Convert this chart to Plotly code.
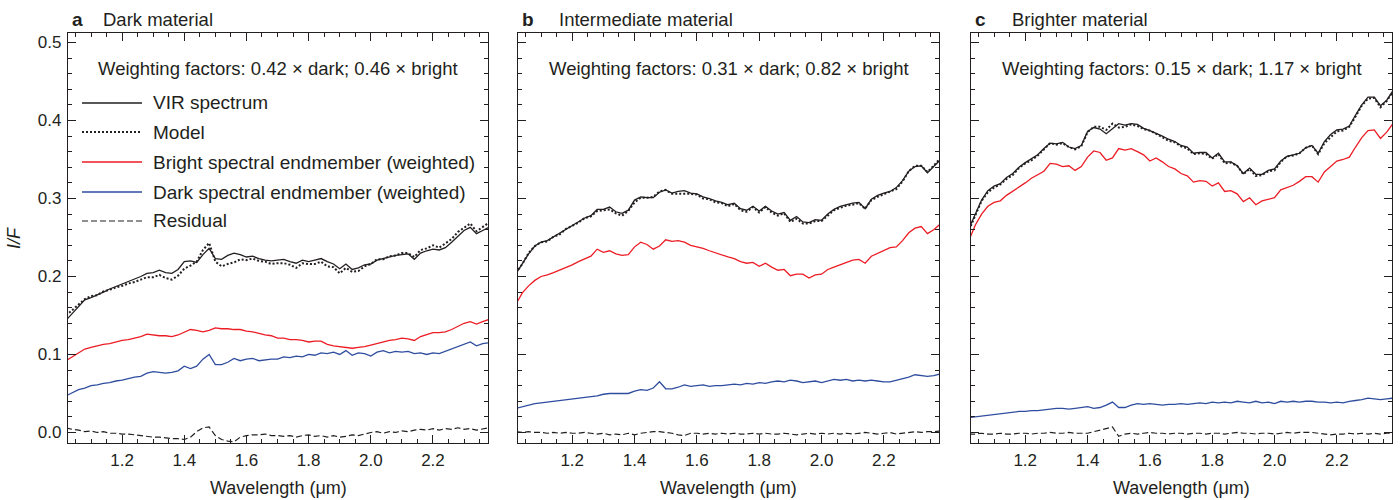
import plotly.graph_objects as go

# Sampling wavelengths (micrometres), shared by all spectra
wavelength = [
    1.02, 1.04, 1.06, 1.08, 1.10, 1.12, 1.14, 1.16, 1.18, 1.20,
    1.22, 1.24, 1.26, 1.28, 1.30, 1.32, 1.34, 1.36, 1.38, 1.40,
    1.42, 1.44, 1.46, 1.48, 1.50, 1.52, 1.54, 1.56, 1.58, 1.60,
    1.62, 1.64, 1.66, 1.68, 1.70, 1.72, 1.74, 1.76, 1.78, 1.80,
    1.82, 1.84, 1.86, 1.88, 1.90, 1.92, 1.94, 1.96, 1.98, 2.00,
    2.02, 2.04, 2.06, 2.08, 2.10, 2.12, 2.14, 2.16, 2.18, 2.20,
    2.22, 2.24, 2.26, 2.28, 2.30, 2.32, 2.34, 2.36, 2.38,
]

# ---- a: dark material ----
dark_vir = [
    0.144, 0.153, 0.161, 0.170, 0.173, 0.176, 0.180, 0.184, 0.187, 0.190,
    0.193, 0.196, 0.200, 0.204, 0.205, 0.208, 0.205, 0.204, 0.209, 0.219,
    0.220, 0.218, 0.228, 0.236, 0.223, 0.222, 0.227, 0.230, 0.228, 0.225,
    0.226, 0.223, 0.221, 0.220, 0.221, 0.222, 0.219, 0.217, 0.221, 0.219,
    0.221, 0.223, 0.219, 0.216, 0.210, 0.216, 0.209, 0.211, 0.215, 0.216,
    0.221, 0.223, 0.225, 0.227, 0.228, 0.229, 0.222, 0.230, 0.233, 0.235,
    0.234, 0.237, 0.244, 0.251, 0.259, 0.263, 0.255, 0.259, 0.263,
]
dark_bright_w = [
    0.092, 0.097, 0.102, 0.107, 0.109, 0.111, 0.113, 0.114, 0.116, 0.118,
    0.119, 0.121, 0.123, 0.126, 0.125, 0.124, 0.124, 0.123, 0.125, 0.129,
    0.132, 0.131, 0.129, 0.131, 0.134, 0.133, 0.133, 0.132, 0.132, 0.130,
    0.129, 0.127, 0.125, 0.124, 0.121, 0.121, 0.119, 0.119, 0.118, 0.116,
    0.117, 0.117, 0.113, 0.111, 0.110, 0.109, 0.108, 0.109, 0.110, 0.112,
    0.114, 0.116, 0.118, 0.119, 0.121, 0.120, 0.118, 0.123, 0.126, 0.128,
    0.128, 0.129, 0.132, 0.136, 0.140, 0.142, 0.139, 0.142, 0.145,
]
dark_dark_w = [
    0.047, 0.051, 0.055, 0.057, 0.060, 0.061, 0.063, 0.064, 0.066, 0.067,
    0.069, 0.071, 0.072, 0.076, 0.078, 0.077, 0.076, 0.077, 0.079, 0.085,
    0.082, 0.085, 0.094, 0.100, 0.087, 0.087, 0.090, 0.095, 0.092, 0.094,
    0.095, 0.092, 0.093, 0.094, 0.094, 0.097, 0.096, 0.098, 0.097, 0.100,
    0.099, 0.102, 0.101, 0.103, 0.100, 0.105, 0.099, 0.102, 0.101, 0.098,
    0.103, 0.105, 0.102, 0.104, 0.103, 0.104, 0.101, 0.102, 0.100, 0.102,
    0.101, 0.104, 0.106, 0.110, 0.113, 0.116, 0.111, 0.114, 0.115,
]
dark_residual = [
    0.006, 0.004, 0.003, 0.001, 0.002, 0.000, 0.001, -0.001, -0.001, -0.002,
    -0.002, -0.003, -0.004, -0.005, -0.006, -0.006, -0.007, -0.008, -0.008, -0.009,
    -0.006, 0.001, 0.006, 0.007, -0.004, -0.009, -0.011, -0.012, -0.006, -0.004,
    -0.003, -0.003, -0.002, -0.004, -0.004, -0.005, -0.004, -0.006, -0.004, -0.003,
    -0.005, -0.004, -0.006, -0.004, -0.006, -0.005, -0.003, -0.004, -0.002, 0.000,
    0.001, -0.001, 0.001, 0.000, 0.002, 0.001, 0.003, 0.004, 0.003, 0.005,
    0.003, 0.005, 0.004, 0.006, 0.004, 0.005, 0.003, 0.005, 0.006,
]

# ---- b: intermediate material ----
inter_vir = [
    0.204, 0.216, 0.229, 0.239, 0.244, 0.246, 0.251, 0.255, 0.261, 0.266,
    0.270, 0.275, 0.278, 0.286, 0.286, 0.289, 0.283, 0.281, 0.285, 0.298,
    0.302, 0.301, 0.301, 0.308, 0.311, 0.307, 0.309, 0.310, 0.307, 0.306,
    0.302, 0.300, 0.297, 0.295, 0.292, 0.294, 0.287, 0.285, 0.290, 0.284,
    0.290, 0.284, 0.280, 0.282, 0.272, 0.277, 0.270, 0.269, 0.273, 0.272,
    0.280, 0.286, 0.290, 0.292, 0.294, 0.295, 0.287, 0.299, 0.304, 0.307,
    0.309, 0.314, 0.323, 0.335, 0.341, 0.342, 0.333, 0.341, 0.349,
]
inter_bright_w = [
    0.165, 0.179, 0.188, 0.195, 0.200, 0.202, 0.205, 0.208, 0.212, 0.215,
    0.219, 0.222, 0.226, 0.235, 0.231, 0.233, 0.229, 0.227, 0.228, 0.238,
    0.244, 0.241, 0.235, 0.239, 0.247, 0.245, 0.246, 0.244, 0.240, 0.238,
    0.236, 0.233, 0.230, 0.227, 0.225, 0.223, 0.219, 0.217, 0.218, 0.213,
    0.217, 0.212, 0.208, 0.209, 0.201, 0.203, 0.203, 0.198, 0.202, 0.203,
    0.209, 0.212, 0.215, 0.218, 0.221, 0.222, 0.217, 0.226, 0.230, 0.234,
    0.237, 0.238, 0.246, 0.256, 0.262, 0.264, 0.255, 0.260, 0.267,
]
inter_dark_w = [
    0.031, 0.033, 0.035, 0.037, 0.038, 0.039, 0.040, 0.041, 0.042, 0.043,
    0.044, 0.045, 0.046, 0.047, 0.049, 0.050, 0.050, 0.050, 0.050, 0.053,
    0.055, 0.054, 0.057, 0.065, 0.056, 0.056, 0.058, 0.061, 0.059, 0.060,
    0.061, 0.059, 0.060, 0.060, 0.061, 0.062, 0.061, 0.063, 0.062, 0.064,
    0.063, 0.065, 0.066, 0.065, 0.067, 0.066, 0.064, 0.065, 0.066, 0.064,
    0.066, 0.068, 0.067, 0.068, 0.066, 0.067, 0.066, 0.067, 0.066, 0.065,
    0.065, 0.067, 0.069, 0.071, 0.074, 0.073, 0.072, 0.073, 0.075,
]
inter_residual = [
    0.001, 0.000, 0.001, 0.000, 0.000, -0.001, 0.000, -0.001, 0.000, -0.001,
    -0.001, 0.000, -0.001, -0.002, -0.001, -0.003, -0.002, -0.003, -0.001, -0.003,
    -0.001, 0.000, 0.001, 0.001, 0.000, -0.001, -0.003, -0.004, -0.001, -0.001,
    -0.002, -0.001, -0.002, -0.001, -0.002, -0.001, -0.002, -0.002, -0.001, -0.002,
    -0.001, -0.002, -0.002, -0.001, -0.002, -0.003, -0.002, -0.001, -0.002, -0.001,
    -0.002, -0.001, -0.002, -0.001, -0.002, -0.001, 0.000, -0.001, -0.002, -0.001,
    0.000, -0.002, -0.001, 0.000, 0.001, 0.000, 0.001, 0.001, 0.002,
]

# ---- c: brighter material ----
bright_vir = [
    0.262, 0.281, 0.298, 0.310, 0.316, 0.319, 0.327, 0.332, 0.340, 0.346,
    0.351, 0.356, 0.364, 0.371, 0.370, 0.372, 0.366, 0.364, 0.368, 0.386,
    0.391, 0.389, 0.383, 0.389, 0.396, 0.394, 0.396, 0.395, 0.390, 0.387,
    0.384, 0.380, 0.376, 0.373, 0.368, 0.366, 0.358, 0.359, 0.359, 0.352,
    0.358, 0.347, 0.347, 0.342, 0.332, 0.339, 0.331, 0.331, 0.336, 0.338,
    0.348, 0.354, 0.356, 0.358, 0.365, 0.368, 0.358, 0.373, 0.382, 0.388,
    0.389, 0.393, 0.407, 0.420, 0.430, 0.430, 0.419, 0.426, 0.438,
]
bright_bright_w = [
    0.247, 0.266, 0.280, 0.290, 0.295, 0.297, 0.304, 0.309, 0.314, 0.320,
    0.326, 0.331, 0.335, 0.345, 0.344, 0.341, 0.342, 0.336, 0.341, 0.353,
    0.361, 0.359, 0.349, 0.352, 0.364, 0.362, 0.364, 0.360, 0.356, 0.348,
    0.352, 0.347, 0.341, 0.338, 0.332, 0.329, 0.321, 0.323, 0.322, 0.316,
    0.320, 0.309, 0.310, 0.306, 0.296, 0.301, 0.292, 0.297, 0.299, 0.301,
    0.311, 0.314, 0.317, 0.322, 0.328, 0.328, 0.321, 0.334, 0.341, 0.348,
    0.350, 0.353, 0.366, 0.378, 0.387, 0.388, 0.377, 0.385, 0.396,
]
bright_dark_w = [
    0.019, 0.020, 0.021, 0.022, 0.023, 0.024, 0.025, 0.026, 0.027, 0.027,
    0.028, 0.028, 0.029, 0.030, 0.031, 0.031, 0.030, 0.031, 0.032, 0.033,
    0.031, 0.032, 0.035, 0.039, 0.032, 0.032, 0.035, 0.037, 0.036, 0.037,
    0.036, 0.035, 0.036, 0.036, 0.037, 0.036, 0.037, 0.038, 0.037, 0.039,
    0.038, 0.039, 0.038, 0.040, 0.039, 0.038, 0.040, 0.038, 0.039, 0.037,
    0.040, 0.039, 0.040, 0.039, 0.040, 0.040, 0.039, 0.039, 0.038, 0.039,
    0.038, 0.040, 0.041, 0.042, 0.044, 0.043, 0.042, 0.043, 0.044,
]
bright_residual = [
    -0.002, -0.002, -0.001, -0.002, -0.002, -0.001, -0.002, -0.002, -0.001, -0.001,
    -0.002, -0.001, -0.001, 0.000, -0.001, -0.001, 0.000, -0.001, -0.001, -0.001,
    0.001, 0.003, 0.005, 0.007, -0.005, -0.002, -0.001, -0.002, -0.001, 0.000,
    -0.001, -0.001, -0.002, -0.001, -0.001, -0.002, -0.001, -0.001, -0.002, -0.001,
    -0.001, -0.002, -0.001, 0.000, -0.001, -0.001, -0.002, -0.001, -0.001, -0.002,
    -0.001, 0.000, -0.001, 0.000, 0.000, 0.000, -0.001, -0.002, -0.003, -0.002,
    -0.002, -0.001, -0.002, -0.001, -0.002, -0.001, -0.002, -0.001, -0.001,
]

panel_letters = ["a", "b", "c"]
panel_names = ["Dark material", "Intermediate material", "Brighter material"]
dark_weights = ["0.42", "0.31", "0.15"]
bright_weights = ["0.46", "0.82", "1.17"]
legend_labels = [
    "VIR spectrum",
    "Model",
    "Bright spectral endmember (weighted)",
    "Dark spectral endmember (weighted)",
    "Residual",
]
y_ticks = [0.0, 0.1, 0.2, 0.3, 0.4, 0.5]
x_ticks = [1.2, 1.4, 1.6, 1.8, 2.0, 2.2]

spectra = [
    (dark_vir, dark_bright_w, dark_dark_w, dark_residual),
    (inter_vir, inter_bright_w, inter_dark_w, inter_residual),
    (bright_vir, bright_bright_w, bright_dark_w, bright_residual),
]

# ---- styling ----
W, H = 1400, 500
INK = "#231f20"
RED = "#ec1c24"
BLUE = "#2f4d9f"
FONT = "Arial, Liberation Sans, Helvetica, sans-serif"
panel_px = [(68, 488), (518, 939), (971, 1392)]
top_px, bottom_px = 33, 443


def px(x):
    return x / W


def py(y):
    return 1 - y / H


STYLES = {
    "vir": dict(color=INK, width=1.3),
    "model": dict(color=INK, width=2.0, dash="2px,2px"),
    "bright": dict(color=RED, width=1.3),
    "dark": dict(color=BLUE, width=1.3),
    "residual": dict(color=INK, width=1.2, dash="6px,3px"),
}

fig = go.Figure()
annotations = []
shapes = []

for i, (vir, bright_w, dark_w, residual) in enumerate(spectra):
    sfx = "" if i == 0 else str(i + 1)
    xa, ya = "x" + sfx, "y" + sfx
    # model fit = measured spectrum plus the plotted residual
    model = [v + r for v, r in zip(vir, residual)]
    for key, ys in [("bright", bright_w), ("dark", dark_w), ("residual", residual),
                    ("vir", vir), ("model", model)]:
        fig.add_trace(go.Scatter(
            x=wavelength, y=ys, mode="lines", line=STYLES[key],
            xaxis=xa, yaxis=ya, showlegend=False, hoverinfo="skip",
        ))

    x0, x1 = panel_px[i]
    axis_common = dict(
        showline=True, linecolor=INK, linewidth=1.3, mirror="ticks",
        ticks="inside", tickcolor=INK, tickwidth=1.1, ticklen=8,
        showgrid=False, zeroline=False,
        tickfont=dict(family=FONT, size=17, color=INK),
    )
    fig.update_layout(**{
        "xaxis" + sfx: dict(
            axis_common, domain=[px(x0), px(x1)], range=[1.026, 2.377],
            anchor=ya, tickmode="array", tickvals=x_ticks,
            ticktext=[f"{t:.1f}" for t in x_ticks],
            minor=dict(dtick=0.05, tick0=1.0, ticks="inside", ticklen=4,
                       tickcolor=INK, tickwidth=1.0),
            ticklabelstandoff=1,
        ),
        "yaxis" + sfx: dict(
            axis_common, domain=[py(bottom_px), py(top_px)],
            range=[-0.0135, 0.5122], anchor=xa, tickmode="array",
            tickvals=y_ticks, ticktext=[f"{t:.1f}" for t in y_ticks],
            showticklabels=(i == 0),
            minor=dict(dtick=0.02, tick0=0.0, ticks="inside", ticklen=4,
                       tickcolor=INK, tickwidth=1.0),
            ticklabelstandoff=2,
        ),
    })

    cx = (x0 + x1) / 2
    # panel heading
    annotations.append(dict(
        text=f"<b>{panel_letters[i]}</b>", x=px(x0 + 2), y=py(19),
        xref="paper", yref="paper", xanchor="left", yanchor="middle",
        showarrow=False, font=dict(family=FONT, size=19, color=INK)))
    annotations.append(dict(
        text=panel_names[i], x=px(x0 + 33 + (6 if i > 0 else 0)), y=py(19),
        xref="paper", yref="paper", xanchor="left", yanchor="middle",
        showarrow=False, font=dict(family=FONT, size=18.5, color=INK)))
    # weighting factors
    annotations.append(dict(
        text=f"Weighting factors: {dark_weights[i]} \u00d7 dark; "
             f"{bright_weights[i]} \u00d7 bright",
        x=px(cx), y=py(68), xref="paper", yref="paper",
        xanchor="center", yanchor="middle", showarrow=False,
        font=dict(family=FONT, size=18.5, color=INK)))
    # x-axis title
    annotations.append(dict(
        text="Wavelength (\u03bcm)", x=px(cx), y=py(488), xref="paper",
        yref="paper", xanchor="center", yanchor="middle", showarrow=False,
        font=dict(family=FONT, size=18, color=INK)))

# y-axis title
annotations.append(dict(
    text="<i>I/F</i>", x=px(14), y=py(238), xref="paper", yref="paper",
    xanchor="center", yanchor="middle", textangle=-90, showarrow=False,
    font=dict(family=FONT, size=18, color=INK)))

# key inside panel a
legend_rows = [103, 132, 162, 192, 221]
legend_styles = ["vir", "model", "bright", "dark", "residual"]
for label, row, key in zip(legend_labels, legend_rows, legend_styles):
    st = STYLES[key]
    shapes.append(dict(
        type="line", xref="paper", yref="paper",
        x0=px(82), x1=px(142), y0=py(row), y1=py(row),
        line=dict(color=st["color"], width=st["width"],
                  dash=st.get("dash", "solid"))))
    annotations.append(dict(
        text=label, x=px(151), y=py(row), xref="paper", yref="paper",
        xanchor="left", yanchor="middle", showarrow=False,
        font=dict(family=FONT, size=19, color=INK)))

fig.update_layout(
    width=W, height=H, margin=dict(l=0, r=0, t=0, b=0),
    paper_bgcolor="white", plot_bgcolor="white",
    annotations=annotations, shapes=shapes, showlegend=False,
    font=dict(family=FONT, color=INK),
)

fig.write_html("out.html")
